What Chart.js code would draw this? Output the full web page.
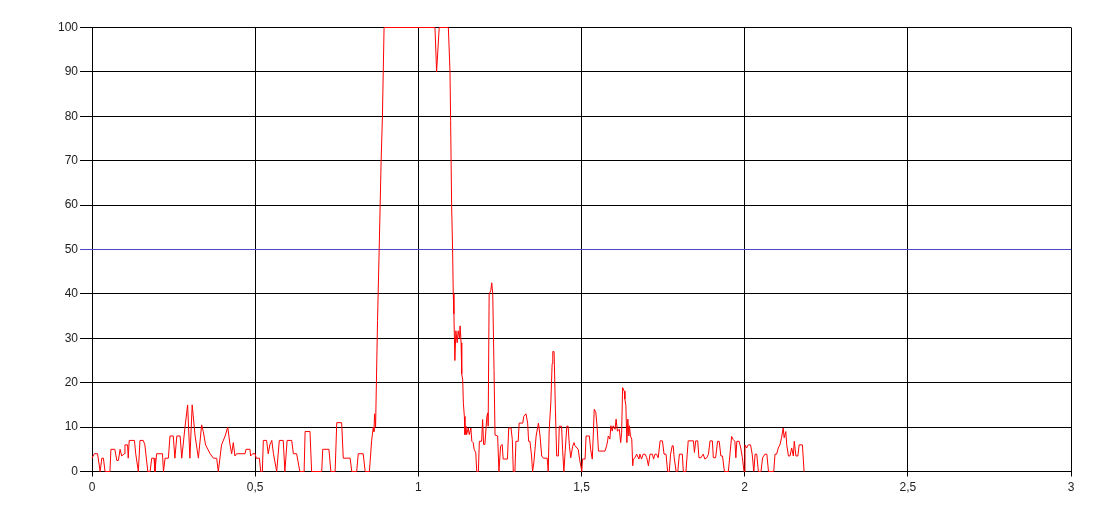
<!DOCTYPE html>
<html>
<head>
<meta charset="utf-8">
<script src="https://cdn.jsdelivr.net/npm/chart.js@4/dist/chart.umd.min.js"></script>
<style>
  html, body { margin: 0; padding: 0; background: #fff; }
  #wrap { width: 1117px; height: 524px; }
</style>
</head>
<body>
<div id="wrap"><canvas id="level-chart"></canvas></div>
<script>
const sampleTimes = [
  0, 0.007, 0.017, 0.025, 0.030, 0.035, 0.040, 0.055, 0.058, 0.070,
  0.076, 0.081, 0.086, 0.091, 0.099, 0.101, 0.109, 0.111, 0.114, 0.130,
  0.134, 0.142, 0.147, 0.157, 0.162, 0.171, 0.178, 0.183, 0.190, 0.193,
  0.198, 0.216, 0.219, 0.224, 0.234, 0.239, 0.249, 0.254, 0.260, 0.270,
  0.275, 0.285, 0.293, 0.300, 0.307, 0.316, 0.326, 0.336, 0.341, 0.348,
  0.362, 0.372, 0.382, 0.387, 0.397, 0.408, 0.416, 0.423, 0.428, 0.433,
  0.438, 0.443, 0.469, 0.472, 0.484, 0.486, 0.492, 0.500, 0.503, 0.513,
  0.517, 0.522, 0.525, 0.535, 0.540, 0.545, 0.551, 0.556, 0.566, 0.574,
  0.586, 0.591, 0.598, 0.612, 0.617, 0.627, 0.637, 0.650, 0.653, 0.668,
  0.673, 0.704, 0.707, 0.726, 0.732, 0.745, 0.750, 0.765, 0.770, 0.791,
  0.796, 0.811, 0.816, 0.831, 0.837, 0.850, 0.857, 0.862, 0.864, 0.866,
  0.869, 0.875, 0.880, 0.886, 0.890, 0.895, 1.051, 1.056, 1.064, 1.092,
  1.097, 1.099, 1.102, 1.105, 1.107,
  1.109, 1.112, 1.115, 1.119, 1.122, 1.126, 1.128, 1.131, 1.133, 1.136,
  1.138, 1.141, 1.143, 1.146, 1.148, 1.153, 1.156, 1.161, 1.164, 1.168,
  1.171, 1.176, 1.179, 1.184, 1.187, 1.194, 1.197, 1.200, 1.204, 1.210,
  1.213, 1.214, 1.217, 1.222, 1.225, 1.228, 1.232, 1.235, 1.243, 1.247,
  1.252, 1.257, 1.260, 1.273, 1.277, 1.284, 1.288, 1.291, 1.296, 1.299,
  1.306, 1.309, 1.320, 1.323, 1.330, 1.335, 1.338, 1.342, 1.347, 1.350,
  1.354, 1.361, 1.368, 1.373, 1.378, 1.383, 1.395, 1.398, 1.401, 1.406,
  1.410, 1.412, 1.416, 1.420, 1.424, 1.429, 1.432, 1.439, 1.442, 1.446,
  1.450, 1.455, 1.459, 1.463, 1.467, 1.473, 1.477,
  1.480, 1.490, 1.494, 1.501, 1.503, 1.511, 1.514, 1.524, 1.528, 1.533,
  1.536, 1.539, 1.544, 1.548, 1.552, 1.572, 1.577, 1.580, 1.582, 1.587,
  1.590, 1.594, 1.597, 1.603, 1.606, 1.610, 1.616, 1.620, 1.623, 1.626,
  1.631, 1.633, 1.636, 1.639, 1.642, 1.645, 1.647, 1.650, 1.654, 1.657,
  1.659, 1.664, 1.669, 1.676, 1.679, 1.684, 1.689, 1.695, 1.700, 1.705,
  1.710, 1.717, 1.721, 1.725, 1.730, 1.735, 1.741, 1.748, 1.753, 1.759,
  1.764, 1.769, 1.773, 1.778, 1.781, 1.784, 1.790, 1.795, 1.800, 1.809,
  1.812, 1.820, 1.824, 1.827, 1.843, 1.846, 1.850, 1.856, 1.860, 1.866,
  1.873, 1.878, 1.884, 1.889, 1.894, 1.901, 1.904, 1.911,
  1.917, 1.922, 1.927, 1.932, 1.938, 1.950, 1.955, 1.960, 1.965, 1.970,
  1.973, 1.976, 1.983, 1.988, 1.993, 1.998, 2.001, 2.006, 2.011, 2.018,
  2.023, 2.028, 2.032, 2.037, 2.042, 2.050, 2.055, 2.062, 2.068, 2.073,
  2.089, 2.093, 2.098, 2.103, 2.108, 2.113, 2.118, 2.121, 2.126, 2.129,
  2.134, 2.139, 2.144, 2.149, 2.152, 2.157, 2.163, 2.167, 2.177, 2.182,
];

const sampleLevels = [
  3, 4, 4, 0, 3, 3, 0, 0, 5, 5,
  2.5, 2.5, 5, 3.5, 4, 6, 6, 3, 7, 7,
  4, 0, 7, 7, 6, 0, 0, 3, 3, 0,
  4, 4, 0, 3, 3, 8, 8, 3, 8, 8,
  3, 10, 15, 3, 15, 8, 3, 10.5, 9, 6,
  4, 3, 3, 0, 6, 8, 10, 6, 4, 6.5,
  3.5, 4, 4, 5, 5, 3.5, 4, 4, 3, 3,
  0, 0, 7, 7, 4, 6, 7, 4, 0, 7,
  7, 0, 7, 7, 4, 4, 0, 0, 9, 9,
  0, 0, 5, 5, 0, 0, 11, 11, 3, 3,
  0, 0, 4, 4, 0, 0, 7, 10, 9, 13,
  10, 34, 50, 70, 80, 100, 100, 90, 100, 100,
  90, 79, 60, 50, 40,
  35.5, 25, 31.7, 29, 31.7, 30, 32.8, 29, 22, 20.6,
  15.4, 12.4, 8.3, 10.2, 8.3, 9.8, 8.3, 9.8, 6.8, 6.5,
  5, 4.2, 0, 0, 6.8, 6.8, 11.7, 6.1, 6.1, 12.4,
  13.2, 10.2, 40, 40.7, 42.5, 40, 22.8, 8.2, 8, 0,
  5.7, 6.1, 2.8, 2.8, 9.8, 9.8, 7.2, 0, 0, 6.8,
  6.8, 10.9, 10.9, 12.4, 13, 10.9, 6.8, 6.8, 3.5, 0,
  2, 8, 10.9, 8, 3.5, 3, 3, 0, 9.4, 15.4,
  24.3, 27, 27, 13.9, 3.5, 3.5, 10.2, 10.2, 5, 0,
  4.6, 10.2, 10.2, 5.7, 3.1, 5.7, 6.5,
  5.8, 5, 2.8, 0, 2.8, 2.8, 8, 8, 5, 2.8,
  8, 14, 13.3, 9.9, 4.6, 4.6, 5.8, 6.9, 8, 7.3,
  10.3, 9.1, 10.3, 9.5, 11.8, 9.1, 9.5, 6.5, 8.8, 18.9,
  18.1, 16.3, 14.8, 6.5, 11.8, 8, 10.3, 8, 7.3, 1.3,
  2.8, 3.1, 3.9, 2.8, 3.9, 2.8, 3.9, 3.9, 3.1, 1.3,
  3.9, 3.9, 2.8, 3.9, 3.9, 3.1, 6.9, 6.9, 3.9, 3.9,
  0, 0, 3.9, 5.8, 5.8, 3.1, 0, 0, 3.9, 3.9,
  0, 0, 3.9, 6.9, 6.9, 4.3, 6.9, 6.9, 3.1, 3.1,
  3.9, 2.8, 3.1, 3.9, 6.9, 6.9, 3.1, 3.1,
  6.8, 6.8, 3.5, 3.5, 0, 0, 3.9, 7.9, 7.2, 6.8,
  3.1, 6.8, 6.8, 5.3, 3.1, 0, 6, 5.3, 6, 6,
  3.9, 0, 3.9, 3.9, 0, 0, 3.1, 3.9, 3.9, 0,
  0, 3.9, 3.9, 5.3, 6, 7.6, 9.8, 7.6, 9, 6,
  3.5, 3.5, 5.3, 3.5, 6.8, 3.5, 3.5, 6, 6, 0,
];

const thresholdLevel = 50;
const xTickLabels = ["0", "0,5", "1", "1,5", "2", "2,5", "3"];

const xMin = 0;
const xMax = 3;
const thresholdColor = "rgb(72, 72, 200)";

Chart.defaults.font.family = "'Liberation Sans', Arial, sans-serif";
Chart.defaults.font.size = 12;
Chart.defaults.color = "#222";

const levelPoints = sampleTimes.map((t, i) => ({ x: t, y: sampleLevels[i] }));
const thresholdPoints = [
  { x: xMin, y: thresholdLevel },
  { x: xMax, y: thresholdLevel },
];

new Chart(document.getElementById("level-chart").getContext("2d"), {
  type: "line",
  data: {
    datasets: [
      {
        label: "Level",
        data: levelPoints,
        borderColor: "#ff0000",
        borderWidth: 1,
        pointRadius: 0,
        tension: 0,
        fill: false,
        clip: 1,
      },
      {
        label: "Threshold",
        data: thresholdPoints,
        borderColor: thresholdColor,
        borderWidth: 1,
        pointRadius: 0,
        fill: false,
      },
    ],
  },
  options: {
    responsive: true,
    maintainAspectRatio: false,
    animation: false,
    // half-pixel offsets keep the 0 / 50 / 100 rows crisp
    layout: {
      padding: { left: 0, top: 27.5, right: 46, bottom: 20.5 },
    },
    plugins: {
      legend: { display: false },
      tooltip: { enabled: false },
    },
    scales: {
      x: {
        type: "linear",
        min: xMin,
        max: xMax,
        afterFit: (scale) => {
          scale.height = 32;
        },
        ticks: {
          stepSize: 0.5,
          padding: 4,
          maxRotation: 0,
          callback: (value, index) => xTickLabels[index],
        },
        grid: {
          color: "#000",
          tickLength: 5,
        },
        border: { color: "#000" },
      },
      y: {
        min: 0,
        max: 100,
        afterFit: (scale) => {
          scale.width = 92;
        },
        ticks: {
          stepSize: 10,
          padding: 2,
        },
        grid: {
          color: (ctx) => (ctx.tick && ctx.tick.value === thresholdLevel ? thresholdColor : "#000"),
          tickLength: 12,
        },
        border: { color: "#000" },
      },
    },
  },
});
</script>
</body>
</html>
